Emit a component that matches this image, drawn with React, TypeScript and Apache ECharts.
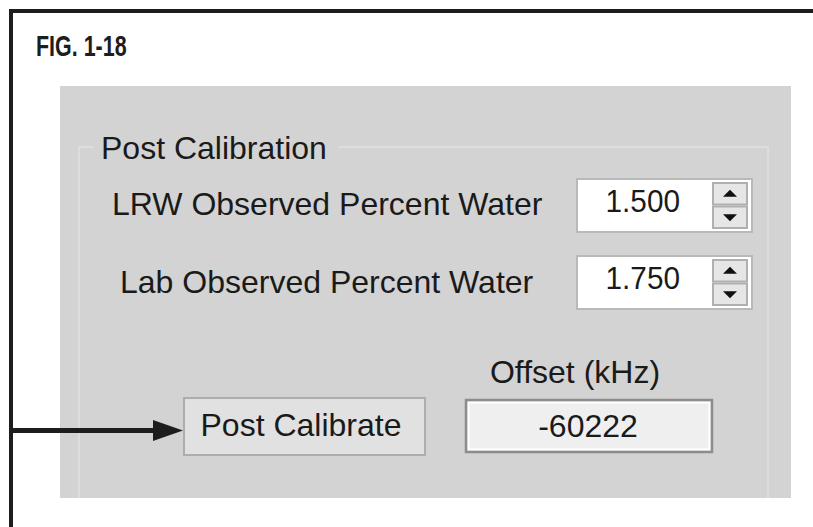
import React, { useEffect, useRef } from "react";
import * as echarts from "echarts";

const figureTitle = ["FIG. 1-18"];
const groupTitle = ["Post Calibration"];
const fieldLabels = ["LRW Observed Percent Water", "Lab Observed Percent Water"];
const fieldValues = ["1.500", "1.750"];
const offsetLabel = ["Offset (kHz)"];
const offsetValues = ["-60222"];
const buttonLabels = ["Post Calibrate"];

const TXT = "#1a1a1a";
const FONT = "'Liberation Sans', Arial, sans-serif";
const PANEL = "#d3d3d3";

function spinBox(y: number, value: string): any[] {
  const x = 577, w = 175, h = 53;
  const bx = 713, bw = 34;
  const bh = (h - 10) / 2;
  const upY = y + 4, dnY = y + 6 + bh;
  const cx = bx + bw / 2;
  return [
    { type: "rect", shape: { x, y, width: w, height: h }, style: { fill: "#ffffff", stroke: "#b9b9b9", lineWidth: 2 } },
    { type: "text", x: 680, y: y + 22, scaleX: 0.93, style: { text: value, font: `32px ${FONT}`, fill: TXT, align: "right", verticalAlign: "middle" } },
    { type: "rect", shape: { x: bx, y: upY, width: bw, height: bh }, style: { fill: "#e6e6e6", stroke: "#b0b0b0", lineWidth: 2 } },
    { type: "rect", shape: { x: bx, y: dnY, width: bw, height: bh }, style: { fill: "#e6e6e6", stroke: "#b0b0b0", lineWidth: 2 } },
    { type: "polygon", shape: { points: [[cx - 7, upY + bh / 2 + 3], [cx + 7, upY + bh / 2 + 3], [cx, upY + bh / 2 - 4]] }, style: { fill: "#111" } },
    { type: "polygon", shape: { points: [[cx - 7, dnY + bh / 2 - 3], [cx + 7, dnY + bh / 2 - 3], [cx, dnY + bh / 2 + 4]] }, style: { fill: "#111" } },
  ];
}

export default function App() {
  const ref = useRef<HTMLDivElement>(null);
  useEffect(() => {
    document.body.style.margin = "0";
    const chart = echarts.init(ref.current!, null, { renderer: "svg" });
    const g: any[] = [
      // frame
      { type: "rect", shape: { x: 9, y: 9, width: 804, height: 4 }, style: { fill: "#1d1d1d" } },
      { type: "rect", shape: { x: 9, y: 9, width: 4, height: 518 }, style: { fill: "#1d1d1d" } },
      {
        type: "text", x: 36, y: 46, scaleX: 0.74,
        style: { text: figureTitle[0], font: `bold 29px ${FONT}`, fill: "#1d1d1d", verticalAlign: "middle" },
      },
      // panel
      { type: "rect", shape: { x: 60, y: 86, width: 731, height: 412 }, style: { fill: PANEL } },
      // group box (clipped by panel bottom)
      { type: "line", shape: { x1: 79, y1: 147, x2: 768, y2: 147 }, style: { stroke: "#dddddd", lineWidth: 2 } },
      { type: "line", shape: { x1: 79, y1: 146, x2: 79, y2: 498 }, style: { stroke: "#dddddd", lineWidth: 2 } },
      { type: "line", shape: { x1: 768, y1: 146, x2: 768, y2: 498 }, style: { stroke: "#dddddd", lineWidth: 2 } },
      { type: "rect", shape: { x: 94, y: 135, width: 244, height: 25 }, style: { fill: PANEL } },
      { type: "text", x: 101, y: 148, style: { text: groupTitle[0], font: `32px ${FONT}`, fill: TXT, verticalAlign: "middle" } },
      // fields
      { type: "text", x: 112, y: 204, style: { text: fieldLabels[0], font: `32px ${FONT}`, fill: TXT, verticalAlign: "middle" } },
      { type: "text", x: 120, y: 282, style: { text: fieldLabels[1], font: `32px ${FONT}`, fill: TXT, verticalAlign: "middle" } },
      ...spinBox(179, fieldValues[0]),
      ...spinBox(256, fieldValues[1]),
      // offset
      { type: "text", x: 575, y: 372, style: { text: offsetLabel[0], font: `32px ${FONT}`, fill: TXT, align: "center", verticalAlign: "middle" } },
      { type: "rect", shape: { x: 466, y: 400, width: 246, height: 52 }, style: { fill: "#efefef", stroke: "#8c8c8c", lineWidth: 2.5 } },
      { type: "rect", shape: { x: 468.8, y: 402.8, width: 240.4, height: 46.4 }, style: { fill: "none", stroke: "#ffffff", lineWidth: 1.5 } },
      { type: "text", x: 588, y: 426, style: { text: offsetValues[0], font: `32px ${FONT}`, fill: TXT, align: "center", verticalAlign: "middle" } },
      // button
      { type: "rect", shape: { x: 184, y: 398, width: 241, height: 57 }, style: { fill: "#e1e1e1", stroke: "#adadad", lineWidth: 2 } },
      { type: "text", x: 301, y: 425, style: { text: buttonLabels[0], font: `32px ${FONT}`, fill: TXT, align: "center", verticalAlign: "middle" } },
      // arrow
      { type: "rect", shape: { x: 12, y: 428, width: 145, height: 5 }, style: { fill: "#1d1d1d" } },
      { type: "polygon", shape: { points: [[153, 420], [183, 430.5], [153, 441]] }, style: { fill: "#1d1d1d" } },
    ];
    chart.setOption({ animation: false, graphic: { elements: g } });
    return () => chart.dispose();
  }, []);
  return <div ref={ref} style={{ width: 813, height: 527, background: "#fff" }} />;
}
